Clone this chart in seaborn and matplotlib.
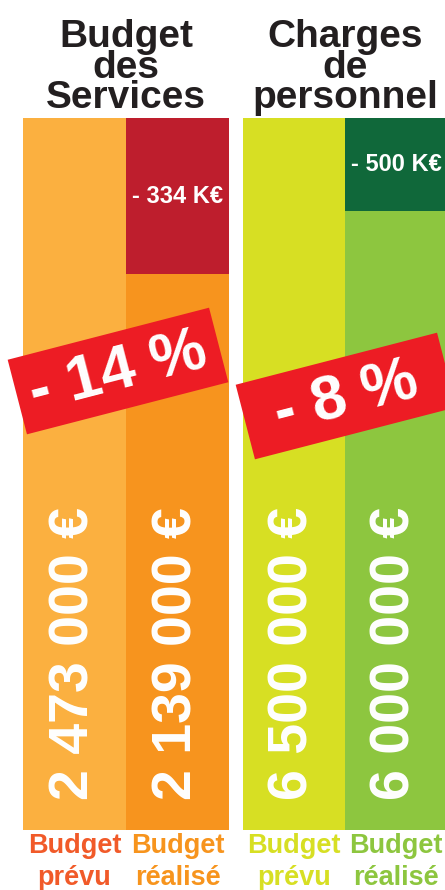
import matplotlib
matplotlib.use("Agg")
import matplotlib.pyplot as plt
import matplotlib.transforms as mtransforms
from matplotlib.patches import Rectangle
import seaborn as sns

# data
groups = ["Budget\ndes\nServices", "Charges\nde\npersonnel"]
bar_names = ["prévu", "réalisé"]
prevu = [2473000, 6500000]
realise = [2139000, 6000000]
ecart_labels = ["- 334 K€", "- 500 K€"]
value_labels = [["2 473 000 €", "2 139 000 €"], ["6 500 000 €", "6 000 000 €"]]
pct_labels = ["- 14 %", "- 8 %"]

# colours
bar_colors = [["#FBB040", "#F7941E"], ["#D7DF23", "#8DC63F"]]
ecart_colors = ["#BE1E2D", "#10683A"]
label_colors = [["#F15A29", "#F7941D"], ["#D7DF23", "#8DC63F"]]
banner_color = "#ED1C24"

sns.set_style("white")
plt.rcParams['font.family'] = ['Liberation Sans', 'DejaVu Sans']

W, H = 445, 890
fig = plt.figure(figsize=(W / 100, H / 100), dpi=100)

# axes placement in pixels (left, right) and shared vertical extent
ax_px = [(23, 229), (243, 447)]
top_px, bottom_px = 118, 830
ylims = [(9.5e5, 2473000), (2.67e6, 6500000)]

for g in range(2):
    x0, x1 = ax_px[g]
    ax = fig.add_axes([x0 / W, 1 - bottom_px / H, (x1 - x0) / W, (bottom_px - top_px) / H])

    # full height layer: prévu bar and the gap (écart) colour behind réalisé
    sns.barplot(x=bar_names, y=[prevu[g], prevu[g]], hue=bar_names,
                palette=[bar_colors[g][0], ecart_colors[g]], width=1,
                saturation=1, linewidth=0, legend=False, ax=ax)
    # actual values on top
    sns.barplot(x=bar_names, y=[prevu[g], realise[g]], hue=bar_names,
                palette=bar_colors[g], width=1,
                saturation=1, linewidth=0, legend=False, ax=ax)
    ax.set_xlim(-0.5, 1.5)
    ax.set_ylim(*ylims[g])
    ax.axis('off')

    # écart label in the middle of the top segment
    ax.text(1, (prevu[g] + realise[g]) / 2, ecart_labels[g], color='white',
            fontsize=17, fontweight='bold', ha='center', va='center')

    # vertical value labels
    for i in range(2):
        ax.text(i, 0.042, value_labels[g][i], transform=ax.get_xaxis_transform(),
                rotation=90, color='white', fontsize=40, fontweight='bold',
                ha='center', va='bottom')

    # titles and bottom labels (x from data, y from figure)
    tr = mtransforms.blended_transform_factory(ax.transData, fig.transFigure)
    for k, line in enumerate(groups[g].split("\n")):
        fig.text(0.5, 1 - [47, 78, 108][k] / H, line, transform=tr,
                 fontsize=28, fontweight='bold', color='#231F20',
                 ha='center', va='baseline')
    for i in range(2):
        for k, line in enumerate(["Budget", bar_names[i]]):
            fig.text(i, 1 - [853, 885][k] / H, line, transform=tr,
                     fontsize=19.5, fontweight='bold', color=label_colors[g][i],
                     ha='center', va='baseline')

# rotated percentage banners on an overlay in pixel units
ov = fig.add_axes([0, 0, 1, 1])
ov.set_xlim(0, W)
ov.set_ylim(H, 0)
ov.axis('off')
banner_centers = [(118, 371), (346, 396)]
bw, bh, angle = 208, 77, 14.5
for (cx, cy), txt in zip(banner_centers, pct_labels):
    ov.add_patch(Rectangle((cx - bw / 2, cy - bh / 2), bw, bh, angle=-angle,
                           rotation_point='center', facecolor=banner_color,
                           edgecolor='none'))
    ov.text(cx, cy + 2, txt, rotation=angle, rotation_mode='anchor',
            color='white', fontsize=45, fontweight='bold',
            ha='center', va='center')

fig.savefig("out.png", dpi=100)
plt.close(fig)
